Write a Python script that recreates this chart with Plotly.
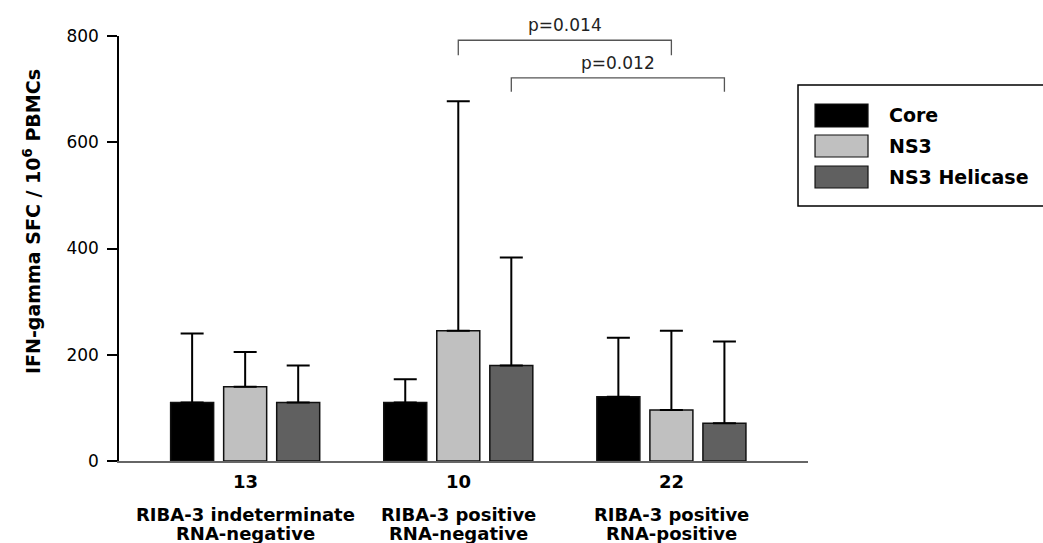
import plotly.graph_objects as go

# ---------------- data ----------------
groups_n = ["13", "10", "22"]
groups_line1 = ["RIBA-3 indeterminate", "RIBA-3 positive", "RIBA-3 positive"]
groups_line2 = ["RNA-negative", "RNA-negative", "RNA-positive"]

series_names = ["Core", "NS3", "NS3 Helicase"]
core_mean = [110, 110, 121]
core_err = [130, 44, 111]
ns3_mean = [140, 245, 96]
ns3_err = [65, 432, 149]
hel_mean = [110, 180, 71]
hel_err = [70, 203, 154]

y_ticks = [0, 200, 400, 600, 800]
p_labels = ["p=0.014", "p=0.012"]

# ---------------- styling ----------------
colors = ["#000000", "#c0c0c0", "#606060"]
FONT = "DejaVu Sans"
BARGAP = 0.2535
BARGROUPGAP = 0.189

means = [core_mean, ns3_mean, hel_mean]
errs = [core_err, ns3_err, hel_err]
xpos = list(range(len(groups_n)))

fig = go.Figure()
for name, m, e, c in zip(series_names, means, errs, colors):
    fig.add_trace(go.Bar(
        x=xpos, y=m, name=name,
        marker=dict(color=c, line=dict(color="#111111", width=1.5)),
        error_y=dict(type="data", array=e, arrayminus=[0] * len(e), symmetric=False,
                     color="#000000", thickness=2, width=11.5),
        showlegend=False,
    ))

# offsets of bars within a group (in category units)
slot = (1 - BARGAP) / len(series_names)
offs = [(i - (len(series_names) - 1) / 2) * slot for i in range(len(series_names))]

shapes = []
annotations = []

# significance brackets: NS3 (G2 vs G3) and Helicase (G2 vs G3)
brackets = [
    (1 + offs[1], 2 + offs[1], 792, 764, p_labels[0]),
    (1 + offs[2], 2 + offs[2], 721, 695, p_labels[1]),
]
for x0, x1, ytop, ybot, lab in brackets:
    shapes.append(dict(type="path", xref="x", yref="y",
                       path=f"M {x0},{ybot} L {x0},{ytop} L {x1},{ytop} L {x1},{ybot}",
                       line=dict(color="#555555", width=1.3)))
    annotations.append(dict(x=(x0 + x1) / 2, y=ytop, xref="x", yref="y", text=lab,
                            showarrow=False, yanchor="middle", yshift=15,
                            font=dict(family=FONT, size=17, color="#222222")))

# category labels
for i in xpos:
    annotations.append(dict(x=i, y=0, xref="x", yref="paper", text=f"<b>{groups_n[i]}</b>",
                            showarrow=False, yanchor="middle", yshift=-20.5,
                            font=dict(family=FONT, size=18, color="#000000")))
    annotations.append(dict(x=i, y=0, xref="x", yref="paper", text=f"<b>{groups_line1[i]}</b>",
                            showarrow=False, yanchor="middle", yshift=-53,
                            font=dict(family=FONT, size=18, color="#000000")))
    annotations.append(dict(x=i, y=0, xref="x", yref="paper", text=f"<b>{groups_line2[i]}</b>",
                            showarrow=False, yanchor="middle", yshift=-72,
                            font=dict(family=FONT, size=18, color="#000000")))

# y-axis title
annotations.append(dict(x=0, y=0.5624, xref="paper", yref="paper",
                        text="<b>IFN-gamma SFC / 10<sup>6</sup> PBMCs</b>",
                        textangle=-90, showarrow=False, xanchor="center", yanchor="middle",
                        xshift=-87, font=dict(family=FONT, size=19, color="#000000")))

# custom legend
shapes.append(dict(type="rect", xref="paper", yref="paper", x0=0.9855, x1=1.36,
                   y0=0.600, y1=0.8847, line=dict(color="#000000", width=1.5),
                   fillcolor="rgba(0,0,0,0)"))
sw_y = [(0.7859, 0.8400), (0.7153, 0.7671), (0.6424, 0.6941)]
for (ya, yb), c, name in zip(sw_y, colors, series_names):
    shapes.append(dict(type="rect", xref="paper", yref="paper", x0=1.0102, x1=1.0871,
                       y0=ya, y1=yb, fillcolor=c, line=dict(color="#111111", width=1.2)))
    annotations.append(dict(x=1.1147, y=(ya + yb) / 2, xref="paper", yref="paper",
                            text=f"<b>{name}</b>", showarrow=False, xanchor="left",
                            yanchor="middle", font=dict(family=FONT, size=19, color="#000000")))

fig.update_layout(
    width=1043, height=543,
    margin=dict(l=119, r=235, t=36, b=82, autoexpand=False),
    paper_bgcolor="white", plot_bgcolor="white",
    font=dict(family=FONT, size=17, color="#000000"),
    barmode="group", bargap=BARGAP, bargroupgap=BARGROUPGAP,
    xaxis=dict(range=[-0.592, 2.641], showticklabels=False, ticks="", showgrid=False,
               zeroline=False, showline=True, linecolor="#666666", linewidth=1.5),
    yaxis=dict(range=[0, 800], tickvals=y_ticks, ticks="outside", ticklen=10,
               tickwidth=1.5, tickcolor="#000000", showgrid=False, zeroline=False,
               showline=True, linecolor="#000000", linewidth=1.5, ticklabelstandoff=5,
               tickfont=dict(family=FONT, size=17, color="#000000")),
    shapes=shapes, annotations=annotations,
)

fig.write_html("out.html", config={"displayModeBar": False},
               post_script="document.body.style.margin='0';document.body.style.padding='0';"
                           "document.documentElement.style.overflow='hidden';")
